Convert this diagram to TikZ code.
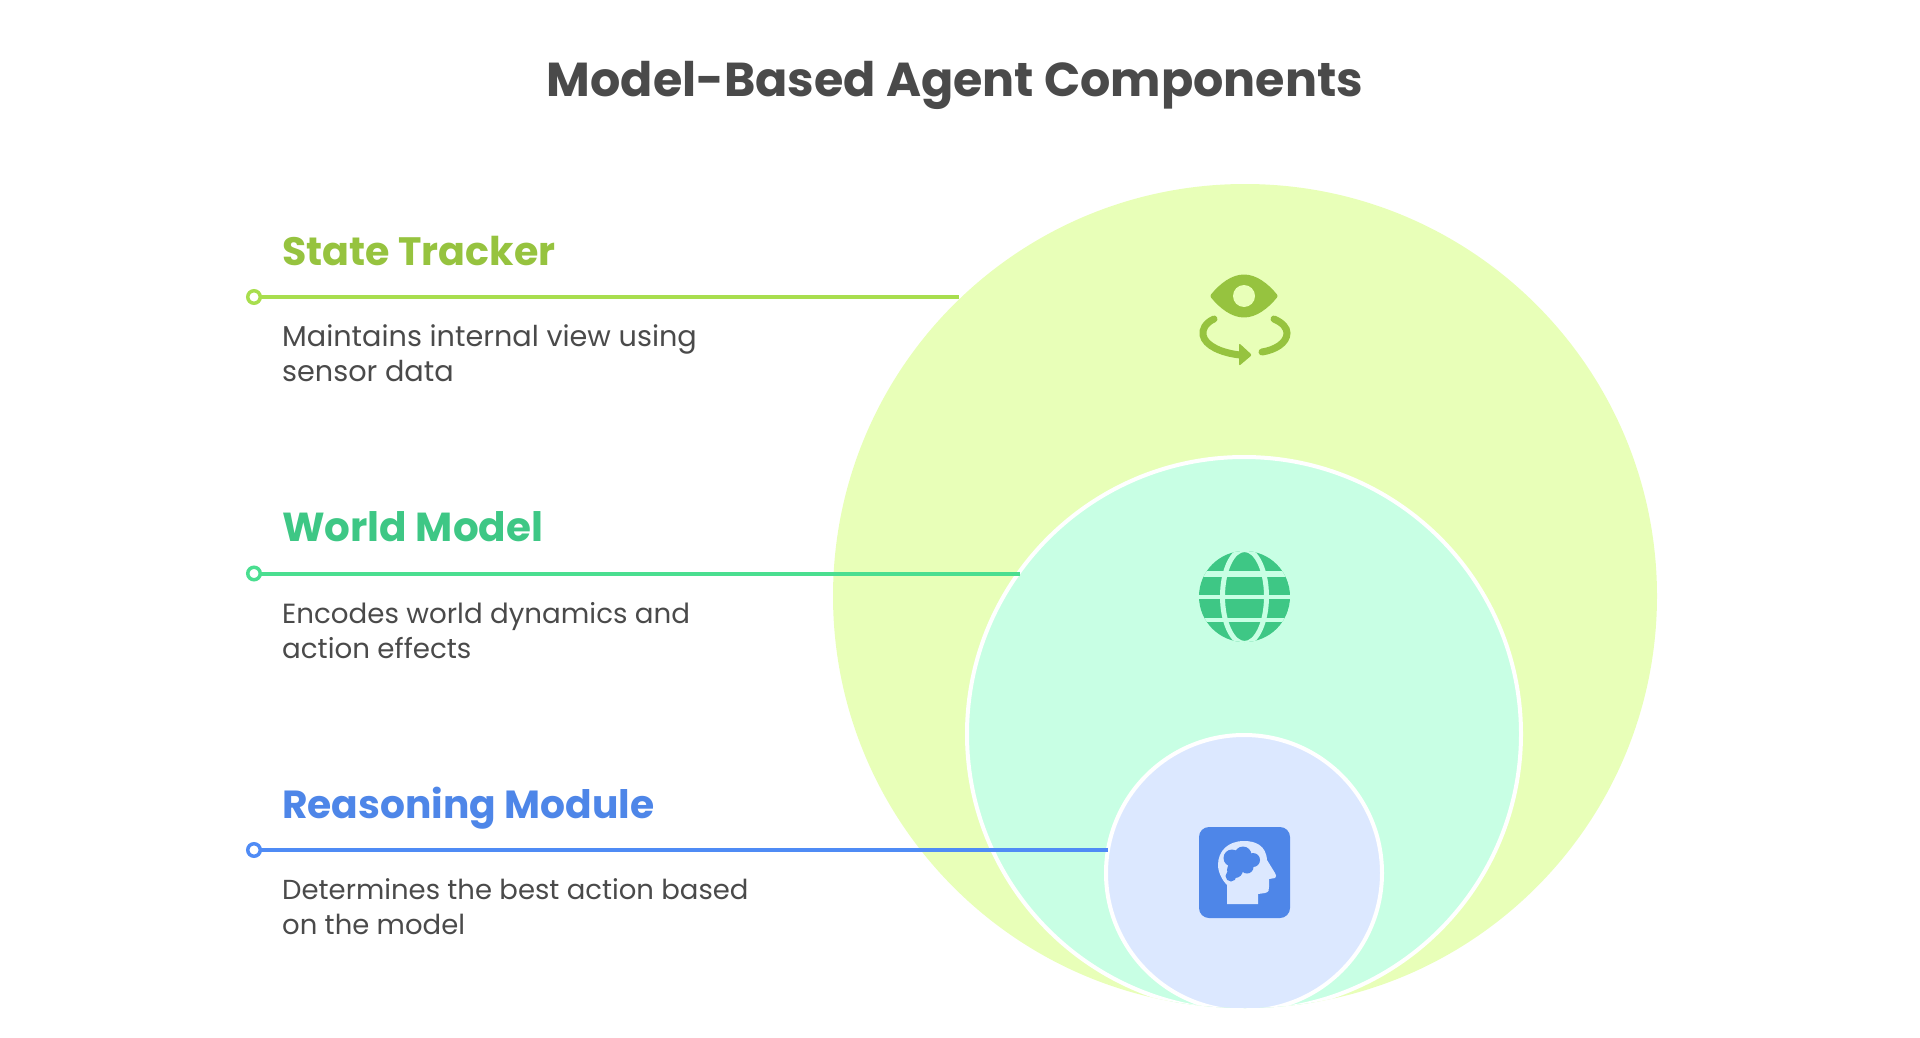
\documentclass[tikz,border=0pt]{standalone}
\usepackage{fontspec}
\setmainfont{Poppins}
\definecolor{limebg}{HTML}{E8FFB8}
\definecolor{mintbg}{HTML}{C8FFE4}
\definecolor{bluebg}{HTML}{DCE8FF}
\definecolor{limeic}{HTML}{96C33F}
\definecolor{limeln}{HTML}{A8DE4E}
\definecolor{mintic}{HTML}{3EC785}
\definecolor{mintln}{HTML}{4ADE90}
\definecolor{blueic}{HTML}{4E86E8}
\definecolor{blueln}{HTML}{4F8BF5}
\definecolor{graytx}{HTML}{4A4A4A}
\tikzset{
  disc/.style={circle,inner sep=0pt,outer sep=0pt,minimum size=#1},
  dotnode/.style={circle,draw=#1,fill=white,line width=3.5pt,inner sep=0pt,outer sep=0pt,minimum size=12.5pt},
  headtext/.style={anchor=base west,inner sep=0pt,font=\fontsize{#1}{40}\selectfont\bfseries},
  bodytext/.style={anchor=base west,inner sep=0pt,align=left,text=graytx,font=\fontsize{#1}{35}\selectfont},
  link/.style={line width=4pt}
}
\begin{document}
\begin{tikzpicture}[x=1pt,y=-1pt]
\useasboundingbox (0,0) rectangle (1920,1038);
\node[anchor=base,inner sep=0pt,text=graytx,font=\fontsize{47.6}{48}\selectfont\bfseries] (title) at (955,96.5) {Model-Based Agent Components};
% circles
\node[disc=824pt,fill=limebg] (big) at (1245,596) {};
\begin{scope}
\clip (1245,596) circle (412);
\node[disc=554pt,fill=mintbg,draw=white,line width=4pt] (mid) at (1244,734) {};
\node[disc=276pt,fill=bluebg,draw=white,line width=4pt] (small) at (1244,873) {};
\end{scope}
% legends
\node[headtext=39.6,text=limeic] (h1) at (282,265) {State Tracker};
\node[headtext=40.5,text=mintic] (h2) at (282,541.5) {World Model};
\node[headtext=39.2,text=blueic] (h3) at (282,818) {Reasoning Module};
\node[bodytext=28.7] (b1) at (282,381) {Maintains internal view using\\sensor data};
\node[bodytext=27.7] (b2) at (282,658) {Encodes world dynamics and\\action effects};
\node[bodytext=27.5] (b3) at (282,934) {Determines the best action based\\on the model};
\node[dotnode=limeln] (d1) at (254,297) {};
\node[dotnode=mintln] (d2) at (254,573.5) {};
\node[dotnode=blueln] (d3) at (254,850) {};
\draw[link,draw=limeln] (d1) -- (d1 -| big.134);
\draw[link,draw=mintln] (d2) -- (d2 -| mid.144.5);
\draw[link,draw=blueln] (d3) -- (d3 -| small.170.4);
% eye icon
\filldraw[limeic,line width=5pt,line join=round] (1213,296) .. controls (1222,285) and (1233,277) .. (1244,277) .. controls (1255,277) and (1266,285) .. (1275,296) .. controls (1266,307) and (1255,315) .. (1244,315) .. controls (1233,315) and (1222,307) .. (1213,296) -- cycle;
\fill[limebg] (1244,296) circle (11);
\draw[limeic,line width=7pt,line cap=round] (1214,319) .. controls (1205,323) and (1202,330) .. (1203,335) .. controls (1205,346) and (1222,353) .. (1240,355);
\fill[limeic,rounded corners=2pt] (1239,343) -- (1252,355) -- (1239,366) -- cycle;
\draw[limeic,line width=7pt,line cap=round] (1274,319) .. controls (1283,323) and (1287,328) .. (1287,333) .. controls (1287,343) and (1275,350) .. (1262,352);
% globe icon
\begin{scope}
\clip (1244.5,596.5) circle (45.5);
\fill[mintic] (1244.5,596.5) circle (46);
\draw[mintbg,line width=5pt] (1244.5,596.5) ellipse (22 and 47);
\draw[mintbg,line width=6pt] (1190,574) -- (1300,574);
\draw[mintbg,line width=3.5pt] (1190,597) -- (1300,597);
\draw[mintbg,line width=3.5pt] (1190,620) -- (1300,620);
\end{scope}
% head icon
\fill[blueic,rounded corners=10pt] (1199,827) rectangle (1290,918);
\fill[bluebg] (1227,904) -- (1258,904) -- (1258,894) -- (1265,893) .. controls (1269,892) and (1269,890) .. (1269,887) -- (1269,879) -- (1275,878) .. controls (1277,877) and (1276,875) .. (1275,873) -- (1267,860) .. controls (1266,845) and (1255,841) .. (1244,841) .. controls (1228,841) and (1218,851) .. (1218,865) .. controls (1218,872) and (1222,880) .. (1227,885) -- cycle;
\fill[blueic] (1232,858) circle (8.5) (1243,855) circle (8.5) (1253,860) circle (7) (1247,867) circle (6.5) (1235,870) circle (8) (1231,876) circle (5.5) (1241,862) circle (8);
\end{tikzpicture}
\end{document}
